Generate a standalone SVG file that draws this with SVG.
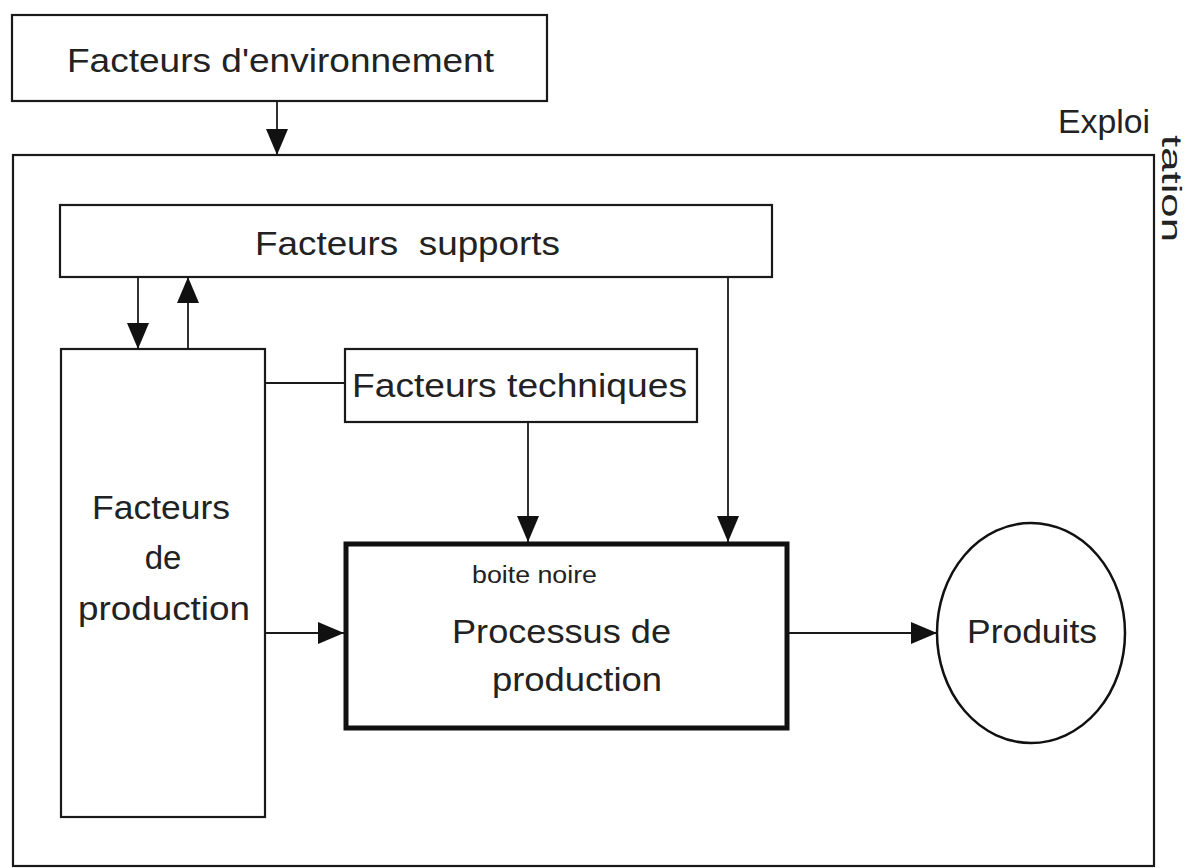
<svg xmlns="http://www.w3.org/2000/svg" width="1189" height="868" viewBox="0 0 1189 868">
<style>
.box{fill:#fff;stroke:#1a1a1a;stroke-width:2.2}
.thick{fill:#fff;stroke:#111;stroke-width:5}
.ln{fill:none;stroke:#1a1a1a;stroke-width:1.8}
.t{font-family:"Liberation Sans",Arial,sans-serif;font-size:33px;fill:#222}
.s{font-family:"Liberation Sans",Arial,sans-serif;font-size:23px;fill:#222}
</style>
<defs>
<marker id="ah" markerUnits="userSpaceOnUse" markerWidth="26" markerHeight="26" viewBox="0 0 26 26" refX="26" refY="13" orient="auto">
<path d="M0,2 L26,13 L0,24 Z" fill="#111"/>
</marker>
</defs>
<rect width="1189" height="868" fill="#fff"/>
<g id="exploitation">
<rect class="box" x="13" y="155" width="1141" height="711"/>
<text class="t" x="1058" y="133" textLength="92" lengthAdjust="spacingAndGlyphs">Exploi</text>
<text class="t" style="font-size:28px" transform="translate(1162,135) rotate(90)" x="0" y="0" textLength="107" lengthAdjust="spacingAndGlyphs">tation</text>
</g>
<g id="env">
<rect class="box" x="12" y="15" width="535" height="86"/>
<text class="t" x="67" y="72" textLength="427" lengthAdjust="spacingAndGlyphs">Facteurs d'environnement</text>
</g>
<g id="supports">
<rect class="box" x="60" y="205" width="712" height="72"/>
<text class="t" x="255" y="255" style="white-space:pre" textLength="305" lengthAdjust="spacingAndGlyphs">Facteurs  supports</text>
</g>
<g id="production">
<rect class="box" x="61" y="349" width="204" height="468"/>
<text class="t" x="92" y="519" textLength="138" lengthAdjust="spacingAndGlyphs">Facteurs</text>
<text class="t" x="163" y="569" text-anchor="middle">de</text>
<text class="t" x="78" y="620" textLength="172" lengthAdjust="spacingAndGlyphs">production</text>
</g>
<g id="techniques">
<rect class="box" x="345" y="349" width="352" height="73"/>
<text class="t" x="352" y="397" textLength="335" lengthAdjust="spacingAndGlyphs">Facteurs techniques</text>
</g>
<g id="processus">
<rect class="thick" x="346" y="544" width="441" height="184"/>
<text class="s" x="472" y="583" textLength="125" lengthAdjust="spacingAndGlyphs">boite noire</text>
<text class="t" x="452" y="643" textLength="219" lengthAdjust="spacingAndGlyphs">Processus de</text>
<text class="t" x="492" y="691" textLength="170" lengthAdjust="spacingAndGlyphs">production</text>
</g>
<g id="produits">
<ellipse fill="#fff" stroke="#111" stroke-width="2.5" cx="1031" cy="633" rx="94" ry="110"/>
<text class="t" x="967" y="643" textLength="130" lengthAdjust="spacingAndGlyphs">Produits</text>
</g>
<g id="connectors">
<line class="ln" x1="277" y1="101" x2="277" y2="155" marker-end="url(#ah)"/>
<line class="ln" x1="138" y1="277" x2="138" y2="349" marker-end="url(#ah)"/>
<line class="ln" x1="188" y1="349" x2="188" y2="277" marker-end="url(#ah)"/>
<line class="ln" x1="265" y1="383" x2="345" y2="383"/>
<line class="ln" x1="528" y1="422" x2="528" y2="542" marker-end="url(#ah)"/>
<line class="ln" x1="728" y1="277" x2="728" y2="542" marker-end="url(#ah)"/>
<line class="ln" x1="265" y1="633" x2="344" y2="633" marker-end="url(#ah)"/>
<line class="ln" x1="789" y1="633" x2="937" y2="633" marker-end="url(#ah)"/>
</g>
</svg>
